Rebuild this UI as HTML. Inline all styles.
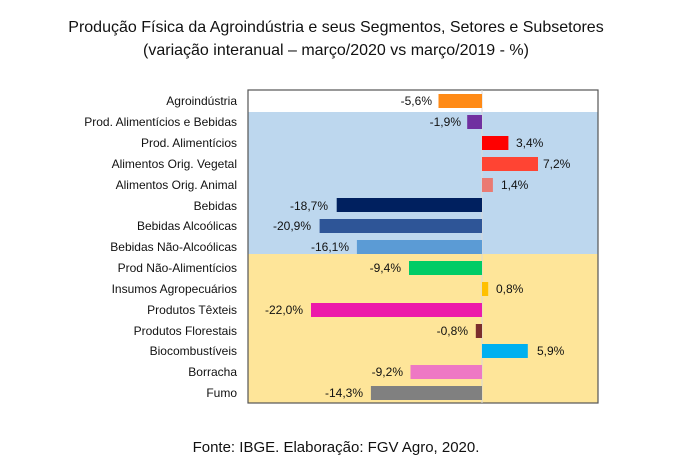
<!DOCTYPE html>
<html><head><meta charset="utf-8"><style>
body{margin:0;background:#fff;}
svg{display:block;font-family:"Liberation Sans",sans-serif;}
</style></head><body>
<svg width="673" height="473" xmlns="http://www.w3.org/2000/svg">
<text x="336" y="32" font-size="16" text-anchor="middle" fill="#111">Produção Física da Agroindústria e seus Segmentos, Setores e Subsetores</text>
<text x="336" y="55" font-size="16" text-anchor="middle" fill="#111">(variação interanual – março/2020 vs março/2019 - %)</text>
<rect x="248" y="112" width="350" height="142" fill="#bdd7ee"/>
<rect x="248" y="254" width="350" height="149" fill="#fee599"/>
<rect x="248" y="90" width="350" height="313" fill="none" stroke="#555" stroke-width="1.2"/>
<line x1="482" y1="90" x2="482" y2="403" stroke="#d9d9d9" stroke-width="1"/>
<g font-size="12" fill="#111">
<g text-anchor="end">
<text x="237" y="105">Agroindústria</text>
<text x="237" y="126">Prod. Alimentícios e Bebidas</text>
<text x="237" y="147">Prod. Alimentícios</text>
<text x="237" y="168">Alimentos Orig. Vegetal</text>
<text x="237" y="189">Alimentos Orig. Animal</text>
<text x="237" y="210">Bebidas</text>
<text x="237" y="230">Bebidas Alcoólicas</text>
<text x="237" y="251">Bebidas Não-Alcoólicas</text>
<text x="237" y="272">Prod Não-Alimentícios</text>
<text x="237" y="293">Insumos Agropecuários</text>
<text x="237" y="314">Produtos Têxteis</text>
<text x="237" y="335">Produtos Florestais</text>
<text x="237" y="355">Biocombustíveis</text>
<text x="237" y="376">Borracha</text>
<text x="237" y="397">Fumo</text>
</g>
</g>
<g>
<rect x="438.5" y="94" width="43.5" height="14" fill="#ff8a16"/>
<rect x="467.2" y="115" width="14.8" height="14" fill="#7030a0"/>
<rect x="482" y="136" width="26.4" height="14" fill="#ff0000"/>
<rect x="482" y="157" width="56" height="14" fill="#ff4433"/>
<rect x="482" y="178" width="10.9" height="14" fill="#ea7a72"/>
<rect x="336.7" y="198" width="145.3" height="14" fill="#00205f"/>
<rect x="319.6" y="219" width="162.4" height="14" fill="#2e5597"/>
<rect x="356.9" y="240" width="125.1" height="14" fill="#5b9bd5"/>
<rect x="409" y="261" width="73" height="14" fill="#00cc66"/>
<rect x="482" y="282" width="6.2" height="14" fill="#ffc000"/>
<rect x="311" y="303" width="171" height="14" fill="#ec1aaa"/>
<rect x="475.8" y="324" width="6.2" height="14" fill="#7b2d2d"/>
<rect x="482" y="344" width="45.8" height="14" fill="#00b0f0"/>
<rect x="410.5" y="365" width="71.5" height="14" fill="#ee78c4"/>
<rect x="370.9" y="386" width="111.1" height="14" fill="#808080"/>
</g>
<g font-size="12" fill="#111">
<g text-anchor="end">
<text x="432" y="105">-5,6%</text>
<text x="461" y="126">-1,9%</text>
<text x="328" y="210">-18,7%</text>
<text x="311" y="230">-20,9%</text>
<text x="349" y="251">-16,1%</text>
<text x="401" y="272">-9,4%</text>
<text x="303" y="314">-22,0%</text>
<text x="468" y="335">-0,8%</text>
<text x="403" y="376">-9,2%</text>
<text x="363" y="397">-14,3%</text>
</g>
<text x="516" y="147">3,4%</text>
<text x="543" y="168">7,2%</text>
<text x="501" y="189">1,4%</text>
<text x="496" y="293">0,8%</text>
<text x="537" y="355">5,9%</text>
</g>
<text x="336" y="452" font-size="15" text-anchor="middle" fill="#111">Fonte: IBGE. Elaboração: FGV Agro, 2020.</text>
</svg>
</body></html>
